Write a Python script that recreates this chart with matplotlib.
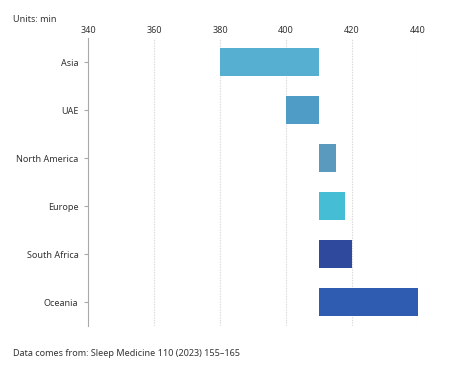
import matplotlib
matplotlib.use("Agg")
import matplotlib.pyplot as plt

categories = ["Asia", "UAE", "North America", "Europe", "South Africa", "Oceania"]
starts = [380, 400, 410, 410, 410, 410]
ends = [410, 410, 415, 418, 420, 440]
colors = ["#56afd0", "#4f9cc6", "#5a9abf", "#45bdd5", "#2f4a9c", "#2f5cb0"]
xticks = [340, 360, 380, 400, 420, 440]

plt.rcParams['font.family'] = ['Noto Sans', 'DejaVu Sans']
FS = 6.5

fig = plt.figure(figsize=(4.5, 3.7), dpi=100)
ax = fig.add_axes([88/450, 1-326/370, 330/450, 288/370])

widths = [e - s for s, e in zip(starts, ends)]
ax.barh(range(len(categories)), widths, left=starts, height=0.6, color=colors, zorder=3)

ax.set_xlim(340, 440)
ax.set_ylim(5.5, -0.5)
ax.set_yticks(range(len(categories)))
ax.set_yticklabels(categories, fontsize=FS, color="#333333")
ax.set_xticks(xticks)
ax.xaxis.tick_top()
ax.tick_params(axis='x', length=0, labelsize=FS, labelcolor="#333333", pad=2)
ax.tick_params(axis='y', length=3, color="#aaaaaa", pad=4)
ax.grid(axis='x', color="#d8d8d8", linestyle=(0, (1.2, 1.2)), linewidth=0.8, zorder=0)
for s in ["top", "right", "bottom"]:
    ax.spines[s].set_visible(False)
ax.spines["left"].set_color("#aaaaaa")
ax.spines["left"].set_linewidth(0.8)

fig.text(13/450, 1-20/370, "Units: min", fontsize=FS, color="#333333", va="center", ha="left")
fig.text(13/450, 1-354/370, "Data comes from: Sleep Medicine 110 (2023) 155\u2013165", fontsize=FS, color="#333333", va="center", ha="left")

fig.savefig("out.png", dpi=100)
